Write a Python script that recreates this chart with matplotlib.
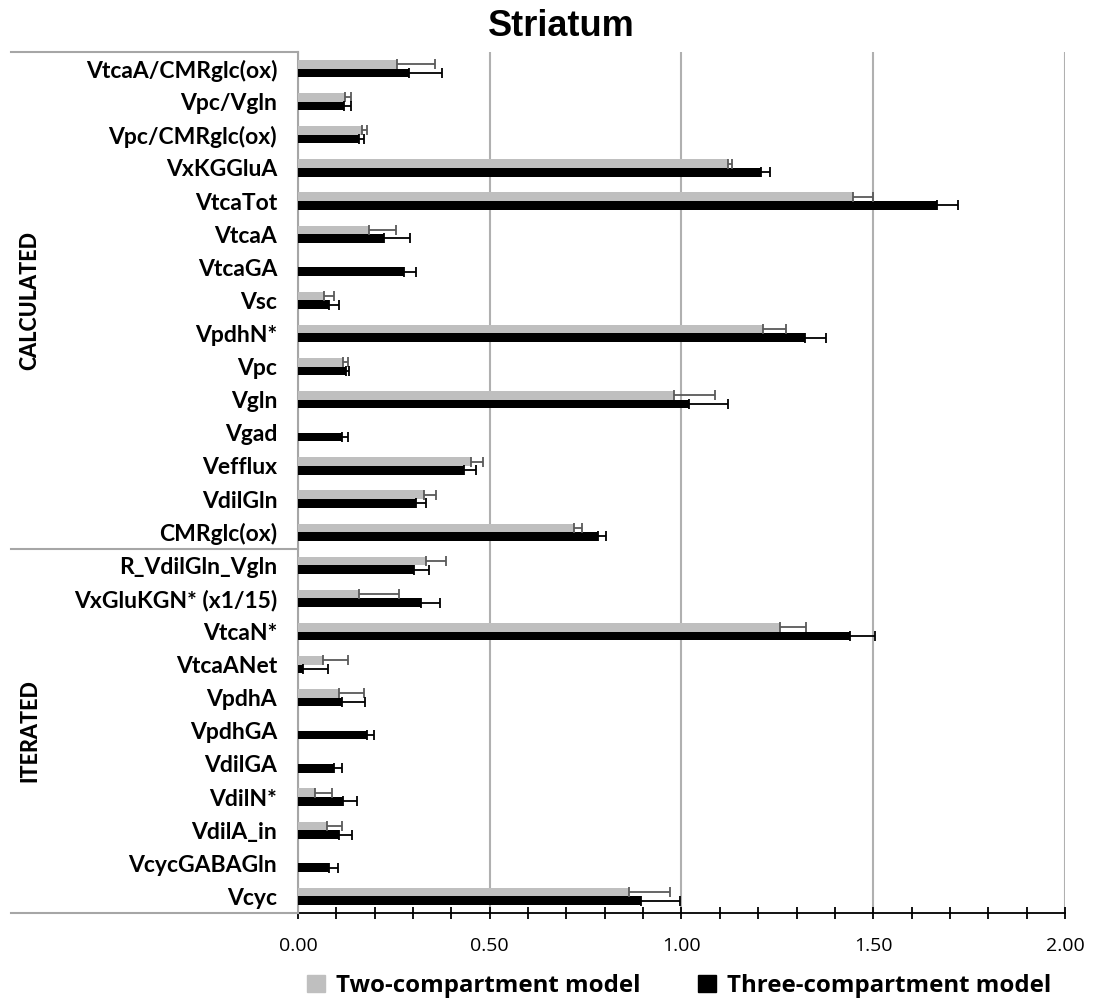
import matplotlib.pyplot as plt
import numpy as np
from matplotlib.patches import Patch
from matplotlib.ticker import MultipleLocator
import matplotlib.transforms as mtransforms

# Categories, top to bottom
categories = ['VtcaA/CMRglc(ox)', 'Vpc/Vgln', 'Vpc/CMRglc(ox)', 'VxKGGluA', 'VtcaTot',
              'VtcaA', 'VtcaGA', 'Vsc', 'VpdhN*', 'Vpc', 'Vgln', 'Vgad', 'Vefflux',
              'VdilGln', 'CMRglc(ox)',
              'R_VdilGln_Vgln', 'VxGluKGN* (x1/15)', 'VtcaN*', 'VtcaANet', 'VpdhA',
              'VpdhGA', 'VdilGA', 'VdilN*', 'VdilA_in', 'VcycGABAGln', 'Vcyc']

# Two-compartment model (grey) values and upper errors
two_comp = [0.257, 0.123, 0.166, 1.122, 1.446, 0.185, 0.0, 0.069, 1.213, 0.118, 0.980,
            0.0, 0.451, 0.329, 0.719,
            0.334, 0.159, 1.257, 0.066, 0.108, 0.0, 0.0, 0.044, 0.076, 0.0, 0.862]
two_err = [0.099, 0.014, 0.015, 0.009, 0.053, 0.070, 0.0, 0.026, 0.059, 0.012, 0.108,
           0.0, 0.032, 0.030, 0.022,
           0.051, 0.104, 0.068, 0.064, 0.063, 0.0, 0.0, 0.045, 0.039, 0.0, 0.107]

# Three-compartment model (black) values and upper errors
three_comp = [0.289, 0.120, 0.159, 1.207, 1.666, 0.225, 0.276, 0.082, 1.321, 0.124, 1.019,
              0.114, 0.432, 0.308, 0.782,
              0.302, 0.321, 1.440, 0.014, 0.116, 0.180, 0.095, 0.118, 0.106, 0.082, 0.894]
three_err = [0.086, 0.018, 0.013, 0.025, 0.054, 0.066, 0.032, 0.025, 0.057, 0.008, 0.101,
             0.016, 0.032, 0.026, 0.022,
             0.040, 0.048, 0.064, 0.063, 0.060, 0.019, 0.021, 0.037, 0.034, 0.022, 0.102]

groups = [('CALCULATED', 0, 14), ('ITERATED', 15, 25)]

label_font = 'Lato'
grey = '#BFBFBF'

fig = plt.figure(figsize=(10.95, 10.07), dpi=100)
ax = fig.add_axes([298 / 1095, 1 - 913 / 1007, 767 / 1095, 861 / 1007])

y = np.arange(len(categories))
h = 0.26

ax.barh(y - h / 2, two_comp, height=h, color=grey, zorder=3)
ax.barh(y + h / 2, three_comp, height=h, color='black', zorder=3)

# plus-only error bars
tc = np.array(two_comp)
te = np.array(two_err)
mask = te > 0
ax.errorbar(tc[mask], (y - h / 2)[mask], xerr=[np.zeros(mask.sum()), te[mask]],
            fmt='none', ecolor='#595959', elinewidth=1.3, capsize=3.5, capthick=1.3, zorder=4)
ax.errorbar(np.array(three_comp), y + h / 2, xerr=[np.zeros(len(y)), np.array(three_err)],
            fmt='none', ecolor='black', elinewidth=1.3, capsize=3.5, capthick=1.3, zorder=4)

ax.set_xlim(0, 2.0)
ax.set_ylim(len(categories) - 0.5, -0.5)

ax.set_yticks(y)
ax.set_yticklabels(categories, fontsize=16.5, fontweight='bold', family=label_font)
ax.tick_params(axis='y', length=0, pad=15)

ax.xaxis.set_minor_locator(MultipleLocator(0.1))
ax.set_xticks([0, 0.5, 1.0, 1.5, 2.0])
ax.set_xticklabels(['0.00', '0.50', '1.00', '1.50', '2.00'])
ax.tick_params(axis='x', which='both', direction='inout', length=9, width=1.3, pad=13,
               labelsize=14)
for t in ax.get_xticklabels():
    t.set_family('Open Sans')

ax.grid(axis='x', which='major', color='#B0B0B0', linewidth=1.5, zorder=0)

for s in ['top', 'right']:
    ax.spines[s].set_visible(False)
ax.spines['left'].set_color('#A6A6A6')
ax.spines['left'].set_linewidth(1.5)
ax.spines['bottom'].set_color('black')
ax.spines['bottom'].set_linewidth(1.3)

# group separators and labels on the left
trans = mtransforms.blended_transform_factory(ax.transAxes, ax.transData)
x_left = -(298 - 11) / 767
for yy in [-0.5, 14.5, 25.5]:
    ax.plot([x_left, 0], [yy, yy], color='#A6A6A6', linewidth=1.5, transform=trans,
            clip_on=False, zorder=5)
for name, i0, i1 in groups:
    ax.text(-(298 - 30) / 767, (i0 + i1) / 2, name, transform=trans, rotation=90,
            ha='center', va='center', fontsize=15.5, fontweight='black', family=label_font)

fig.text(0.513, 0.974, 'Striatum', ha='center', va='center', fontsize=26,
         fontweight='bold', family='Liberation Sans')

handles = [Patch(color=grey, label='Two-compartment model'),
           Patch(color='black', label='Three-compartment model')]
leg = fig.legend(handles=handles, loc='center', bbox_to_anchor=(0.62, 0.021), ncol=2,
                 frameon=False, handlelength=0.75, handleheight=0.75, handletextpad=0.45,
                 columnspacing=2.4, prop={'family': 'Open Sans', 'weight': 'bold', 'size': 17.3})

fig.savefig('out.png', dpi=100)
